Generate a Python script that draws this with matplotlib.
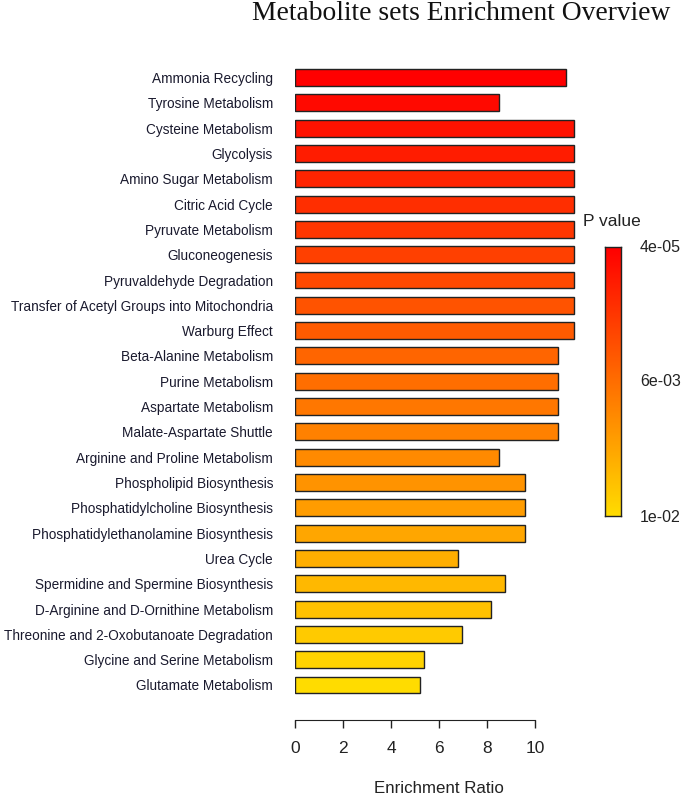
import numpy as np
import matplotlib
matplotlib.use("Agg")
import matplotlib.pyplot as plt
from matplotlib.colors import LinearSegmentedColormap

pathways = [
    "Ammonia Recycling", "Tyrosine Metabolism", "Cysteine Metabolism", "Glycolysis",
    "Amino Sugar Metabolism", "Citric Acid Cycle", "Pyruvate Metabolism", "Gluconeogenesis",
    "Pyruvaldehyde Degradation", "Transfer of Acetyl Groups into Mitochondria",
    "Warburg Effect", "Beta-Alanine Metabolism", "Purine Metabolism", "Aspartate Metabolism",
    "Malate-Aspartate Shuttle", "Arginine and Proline Metabolism", "Phospholipid Biosynthesis",
    "Phosphatidylcholine Biosynthesis", "Phosphatidylethanolamine Biosynthesis", "Urea Cycle",
    "Spermidine and Spermine Biosynthesis", "D-Arginine and D-Ornithine Metabolism",
    "Threonine and 2-Oxobutanoate Degradation", "Glycine and Serine Metabolism",
    "Glutamate Metabolism",
]
enrichment = [11.29, 8.49, 11.63, 11.63, 11.63, 11.63, 11.63, 11.63, 11.63, 11.63,
              11.63, 10.96, 10.96, 10.96, 10.96, 8.49, 9.57, 9.57, 9.57, 6.79,
              8.75, 8.15, 6.96, 5.38, 5.21]
# estimated p-values (ordered, most significant first)
pvalues = [4e-05, 2e-04, 4e-04, 6e-04, 8e-04, 1.0e-03, 1.3e-03, 1.6e-03, 2.0e-03, 2.4e-03,
           2.8e-03, 3.3e-03, 3.8e-03, 4.4e-03, 5.0e-03, 5.6e-03, 6.2e-03, 6.8e-03, 7.3e-03,
           7.8e-03, 8.3e-03, 8.8e-03, 9.2e-03, 9.6e-03, 1e-02]
pval_ticks = ["4e-05", "6e-03", "1e-02"]

cmap = LinearSegmentedColormap.from_list("ry", ["#FF0000", "#FFDC00"])
n = len(pathways)
ranks = np.argsort(np.argsort(pvalues))
colors = [cmap(r / (n - 1)) for r in ranks]

W, H = 685, 796
fig = plt.figure(figsize=(W / 100, H / 100), dpi=100)
plt.rcParams['font.family'] = ['Liberation Sans', 'DejaVu Sans']

# main axes in pixel coords
left, right = 295, 295 + 12 * 24
top, bottom = 64.85, 697.65
ax = fig.add_axes([left / W, 1 - bottom / H, (right - left) / W, (bottom - top) / H])
y = np.arange(n)
ax.barh(y, enrichment, height=0.67, color=colors, edgecolor="#222222", linewidth=1.0)
ax.set_ylim(n - 0.5, -0.5)
ax.set_xlim(0, 12)
ax.set_yticks(y)
ax.set_yticklabels(pathways, fontsize=9.8, color="#1a1a2e")
ax.tick_params(axis='y', length=0, pad=15.8)
for s in ["top", "right", "left"]:
    ax.spines[s].set_visible(False)
ax.spines["bottom"].set_bounds(0, 10)
ax.spines["bottom"].set_position(("outward", 16))
ax.spines["bottom"].set_color("#222222")
ax.set_xticks([0, 2, 4, 6, 8, 10])
ax.tick_params(axis='x', length=6, width=1, color="#222222", labelsize=12.5, pad=9,
               labelcolor="#222222")
ax.set_xlabel("Enrichment Ratio", fontsize=12.2, labelpad=18, color="#222222")

fig.text(461 / W, 1 - 14 / H, "Metabolite sets Enrichment Overview", family="Liberation Serif",
         fontsize=19.8, ha="center", va="center", color="#111111")

# colorbar
cax = fig.add_axes([605 / W, 1 - 516 / H, 16 / W, (516 - 247) / H])
grad = np.linspace(0, 1, 256).reshape(-1, 1)
cax.imshow(grad, aspect="auto", cmap=cmap, origin="upper", extent=[0, 1, 0, 1])
cax.set_xticks([])
cax.set_yticks([])
for s in cax.spines.values():
    s.set_color("#222222")
    s.set_linewidth(1.0)
fig.text(583 / W, 1 - 221 / H, "P value", fontsize=12.5, ha="left", va="center", color="#222222")
for lbl, yy in zip(pval_ticks, [247, 382, 518]):
    fig.text(640 / W, 1 - yy / H, lbl, fontsize=11.5, ha="left", va="center", color="#222222")

fig.savefig("out.png", dpi=100)
